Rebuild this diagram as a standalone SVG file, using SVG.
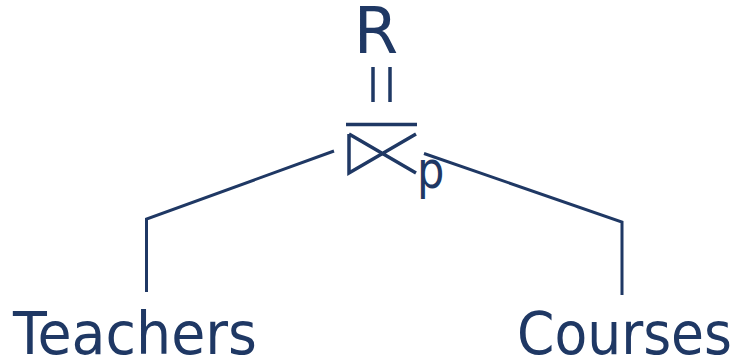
<svg xmlns="http://www.w3.org/2000/svg" width="739" height="362" viewBox="0 0 739 362">
  <style>
    .ink { fill: #1f3864; font-family: "DejaVu Sans", "Liberation Sans", sans-serif; }
    .wire { fill: none; stroke: #1f3864; stroke-width: 3; stroke-linecap: butt; stroke-linejoin: miter; }
    .sym { fill: none; stroke: #1f3864; stroke-width: 3.5; stroke-linecap: butt; }
  </style>
  <rect width="739" height="362" fill="#ffffff"/>

  <!-- result relation with assignment bars -->
  <g id="result">
    <text class="ink" x="353.7" y="53" font-size="64">R</text>
    <line class="sym" x1="373" y1="67" x2="373" y2="102" stroke-width="3"/>
    <line class="sym" x1="390" y1="67" x2="390" y2="102" stroke-width="3"/>
  </g>

  <!-- semijoin operator on predicate p -->
  <g id="semijoin">
    <line class="sym" x1="346" y1="124.5" x2="417" y2="124.5"/>
    <path class="sym" d="M349 134 L349 173 L416 134 M349 134 L416 173" stroke-linejoin="miter"/>
    <text class="ink" font-size="52" transform="translate(417,187.5) scale(0.83,1)">p</text>
  </g>

  <g id="teachers">
    <text class="ink" x="13" y="353.5" font-size="58" textLength="244" lengthAdjust="spacingAndGlyphs">Teachers</text>
  </g>

  <g id="courses">
    <text class="ink" x="517" y="353.5" font-size="58" textLength="215" lengthAdjust="spacingAndGlyphs">Courses</text>
  </g>

  <g id="connectors">
    <polyline class="wire" points="334,151 146.5,219 146.5,292"/>
    <polyline class="wire" points="424,153.5 622,222 622,295"/>
  </g>
</svg>
